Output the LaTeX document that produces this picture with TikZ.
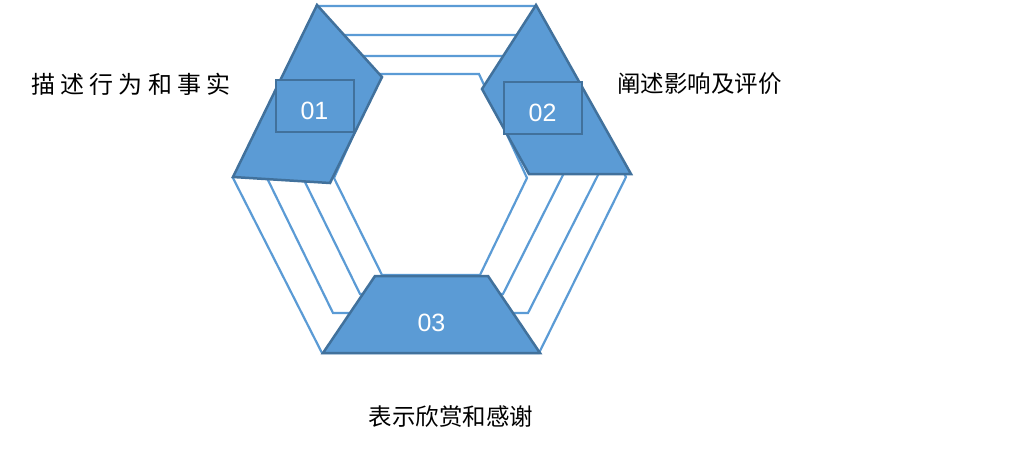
\documentclass[tikz,border=0pt]{standalone}
\usepackage{fontspec}
\setmainfont{Liberation Sans}
\newfontfamily\cjk{Noto Sans CJK SC}
\definecolor{bfill}{HTML}{5B9BD5}
\definecolor{bdark}{HTML}{41719C}
\begin{document}
\begin{tikzpicture}[x=1pt,y=-1pt,
  ring/.style={draw=bfill,line width=2.2pt,line join=miter},
  seg/.style={draw=bdark,fill=bfill,line width=2.5pt,line join=miter},
  numbox/.style={draw=bdark,fill=bfill,line width=2pt,minimum width=78pt,minimum height=52pt,inner sep=0pt},
  num/.style={text=white,inner sep=0pt,font=\fontsize{25}{25}\selectfont},
  lbl/.style={inner sep=0pt,font=\cjk\fontsize{23.5}{24}\selectfont}]
\useasboundingbox (0,0) rectangle (1026,450);
% concentric hexagon outlines
\draw[ring] (317,6) -- (536,6) -- (626,177) -- (539,353) -- (322,353) -- (233,178) -- cycle;
\draw[ring] (338,35) -- (524,35) -- (598,175) -- (528,313) -- (333,313) -- (267,178) -- cycle;
\draw[ring] (360,56) -- (506,56) -- (563,175) -- (503,294) -- (360,294) -- (303,178) -- cycle;
\draw[ring] (381,74) -- (479,74) -- (527,178) -- (480,275) -- (382,275) -- (334,178) -- cycle;
% blue segments
\draw[seg] (317,5) -- (382,77) -- (330,183) -- (233,177) -- cycle;
\draw[seg] (536,5) -- (631,174) -- (529,174) -- (482,89) -- cycle;
\draw[seg] (375,276) -- (488,276) -- (540,353) -- (323,353) -- cycle;
% number boxes
\node[numbox] (b1) at (315,106) {};
\node[numbox] (b2) at (543,108) {};
\node[num] (n1) at (314.5,111) {01};
\node[num] (n2) at (542.5,113) {02};
\node[num] (n3) at (431.5,322.5) {03};
% labels
\node[lbl,font=\cjk\fontsize{24}{24}\selectfont] (l1) at (131,84) {描\hspace{5.3pt}述\hspace{5.3pt}行\hspace{5.3pt}为\hspace{5.3pt}和\hspace{5.3pt}事\hspace{5.3pt}实};
\node[lbl] (l2) at (699.5,84) {阐述影响及评价};
\node[lbl] (l3) at (451,417) {表示欣赏和感谢};
\end{tikzpicture}
\end{document}
